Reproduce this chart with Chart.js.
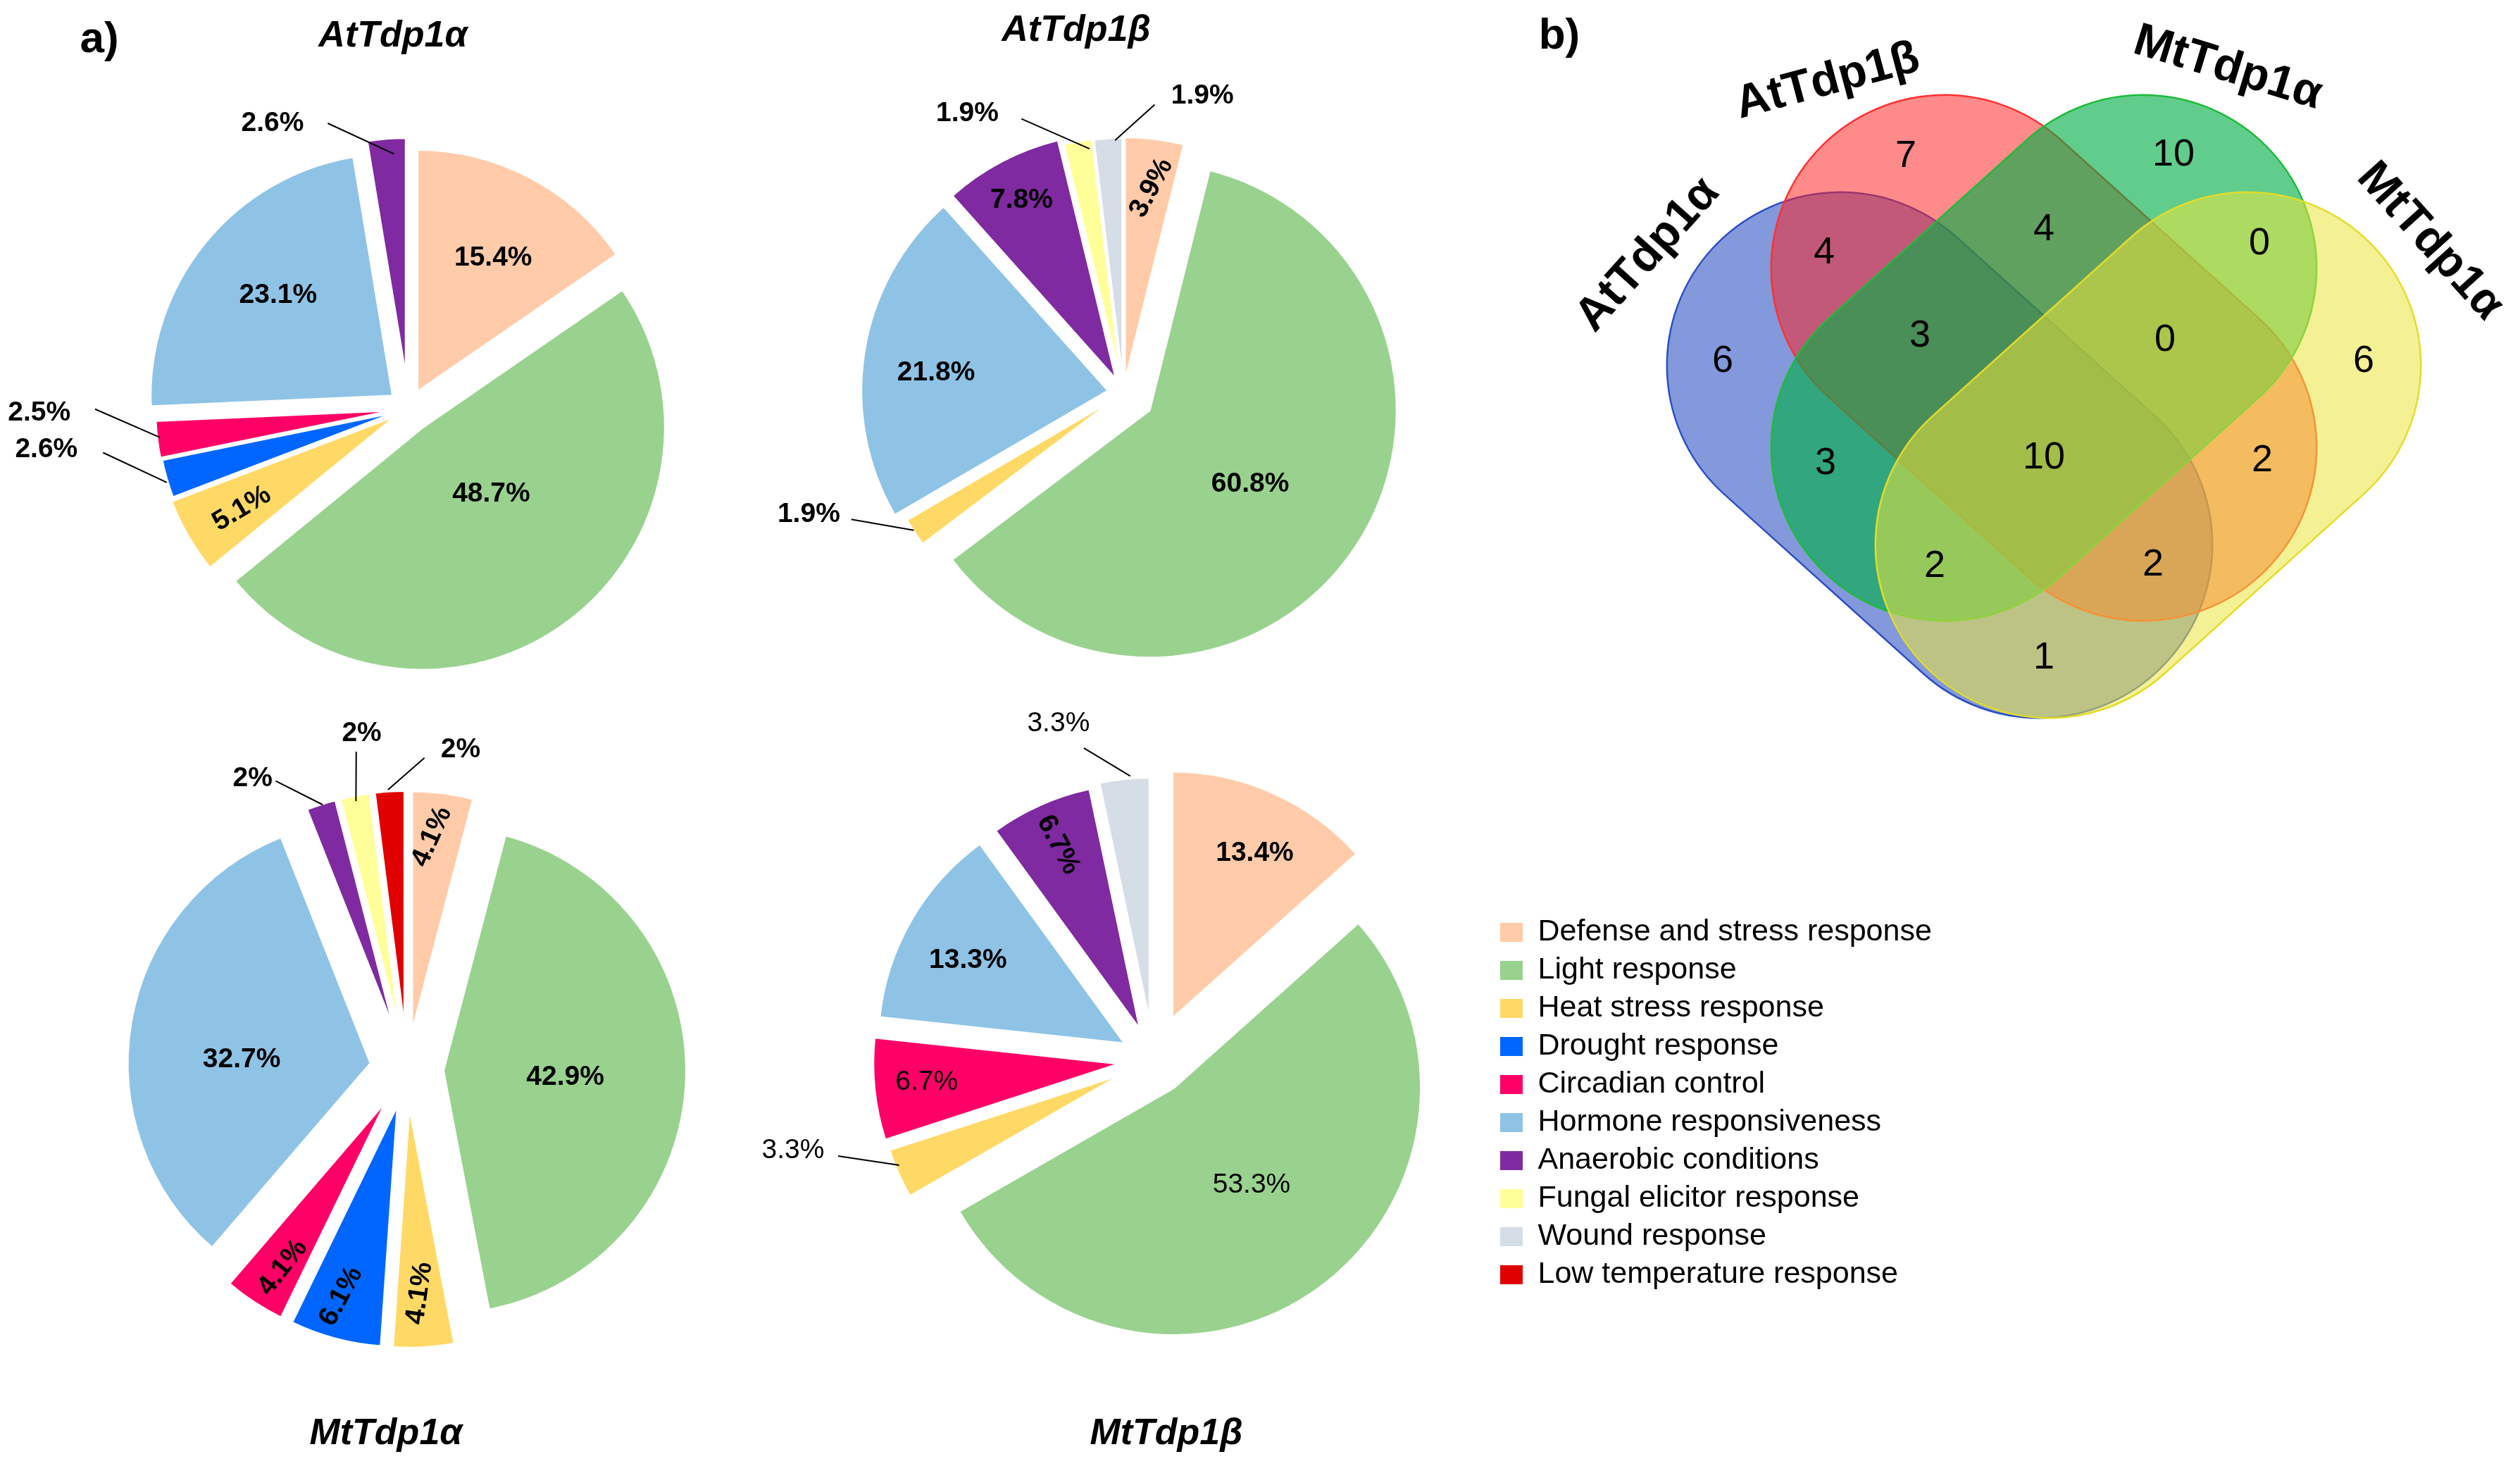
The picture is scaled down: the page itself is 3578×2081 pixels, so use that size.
<!DOCTYPE html>
<html>
<head>
<meta charset="utf-8">
<script src="https://cdn.jsdelivr.net/npm/chart.js@4.4.0/dist/chart.umd.min.js"></script>
<style>
  html, body { margin: 0; padding: 0; background: #fff; }
  body { width: 3578px; height: 2081px; position: relative; overflow: hidden; font-family: "Liberation Sans", Arial, sans-serif; }
  canvas { position: absolute; }
  .lbl { position: absolute; transform: translate(-50%, -50%); white-space: nowrap; color: #000; }
  .panel { font-weight: bold; font-size: 62px; }
  .ptitle { font-weight: bold; font-style: italic; font-size: 52px; }
</style>
</head>
<body>
<canvas id="pieAtA"></canvas>
<canvas id="pieAtB"></canvas>
<canvas id="pieMtA"></canvas>
<canvas id="pieMtB"></canvas>
<canvas id="venn"></canvas>
<canvas id="legend"></canvas>

<div class="lbl panel" style="left:141px;top:52px">a)</div>
<div class="lbl panel" style="left:2214px;top:47px">b)</div>
<div class="lbl ptitle" style="left:558px;top:48px">AtTdp1α</div>
<div class="lbl ptitle" style="left:1528px;top:40px">AtTdp1β</div>
<div class="lbl ptitle" style="left:548px;top:2032px">MtTdp1α</div>
<div class="lbl ptitle" style="left:1656px;top:2032px">MtTdp1β</div>

<script>
// categories (legend order = slice order, clockwise from 12 o'clock)
const categories = [
    'Defense and stress response', 'Light response', 'Heat stress response',
    'Drought response', 'Circadian control', 'Hormone responsiveness',
    'Anaerobic conditions', 'Fungal elicitor response', 'Wound response',
    'Low temperature response'
];
const sliceColors = ['#FFCBA9', '#99D28F', '#FFD966', '#0066FF', '#FF0066',
    '#8EC3E6', '#7F2AA0', '#FFFF99', '#D5DDE7', '#E00000'];

// percentages per gene
const atTdp1aValues = [15.4, 48.7, 5.1, 2.6, 2.5, 23.1, 2.6, 0, 0, 0];
const atTdp1bValues = [3.9, 60.8, 1.9, 0, 0, 21.8, 7.8, 1.9, 1.9, 0];
const mtTdp1aValues = [4.1, 42.9, 4.1, 6.1, 4.1, 32.7, 2, 2, 0, 2];
const mtTdp1bValues = [13.4, 53.3, 3.3, 0, 6.7, 13.3, 6.7, 0, 3.3, 0];

// venn: shared element counts and where they sit (venn units)
const vennSets = ['AtTdp1α', 'AtTdp1β', 'MtTdp1α', 'MtTdp1α'];
const vennCounts = [6, 7, 10, 6, 4, 4, 0, 3, 0, 10, 3, 2, 2, 2, 1];
const vennX = [-4.56, -1.96, 1.84, 4.54, -3.12, 0, 3.06, -1.76, 1.72, 0, -3.10, 3.10, -1.55, 1.55, 0];
const vennY = [-0.05, 2.86, 2.88, -0.05, 1.49, 1.82, 1.62, 0.31, 0.25, -1.42, -1.50, -1.46, -2.96, -2.94, -4.26];

// ---- layout / style ----
const PIE_CANVAS = 1240;
const pieLayouts = {
    pieAtA: {
        cx: 580, cy: 580, r: 345, values: atTdp1aValues,
        shift: [26, 33, 17, 13, 15, 28, 40, 0, 0, 0],
        labels: {
            0: {a: 29.4, f: 0.71}, 1: {a: 136, f: 0.49}, 2: {a: 239, f: 0.80, rot: -31},
            3: {a: 263.5, f: 1.50, lead: [261.8, 1.27, 253, 1.04]},
            4: {a: 269.3, f: 1.52, lead: [269.9, 1.29, 263.4, 1.03]},
            5: {a: 310.9, f: 0.71},
            6: {a: 334.5, f: 1.30, lead: [344.2, 1.22, 356.7, 1.05]}
        }
    },
    pieAtB: {
        cx: 1595, cy: 558, r: 352, values: atTdp1bValues,
        shift: [12, 44, 5, 0, 0, 21, 20, 12, 11, 0],
        labels: {
            0: {a: 7.8, f: 0.835, rot: -62}, 1: {a: 125.7, f: 0.63},
            2: {a: 248.9, f: 1.36, lead: [245.1, 1.21, 236.8, 1.01]},
            5: {a: 276.2, f: 0.76}, 6: {a: 332.2, f: 0.88},
            7: {a: 330.8, f: 1.29, lead: [339.6, 1.18, 352.1, 0.995]},
            8: {a: 14.9, f: 1.24, lead: [6.2, 1.17, 358.1, 1.02]}
        }
    },
    pieMtA: {
        cx: 578, cy: 1518, r: 346, values: mtTdp1aValues,
        shift: [50, 51, 50, 50, 50, 52, 50, 50, 0, 50],
        labels: {
            0: {a: 6.1, f: 0.96, rot: -66}, 1: {a: 92.8, f: 0.65},
            2: {a: 176.8, f: 0.92, rot: -82}, 3: {a: 196.2, f: 0.97, rot: -62},
            4: {a: 212.1, f: 0.96, rot: -52}, 5: {a: 273.4, f: 0.68},
            6: {a: 332, f: 1.35, lead: [335.5, 1.30, 342.3, 1.14]},
            7: {a: 352.3, f: 1.39, lead: [350.9, 1.32, 349.2, 1.12]},
            9: {a: 9.5, f: 1.33, lead: [3.2, 1.28, 356.1, 1.15]}
        }
    },
    pieMtB: {
        cx: 1638, cy: 1505, r: 352, values: mtTdp1bValues,
        shift: [64, 48, 45, 0, 47, 46, 45, 0, 50, 0],
        labels: {
            0: {a: 26, f: 0.93}, 1: {a: 141.9, f: 0.64, plain: true},
            2: {a: 255.9, f: 1.50, plain: true, lead: [253.1, 1.33, 247.6, 1.11]},
            4: {a: 264.4, f: 0.92, plain: true}, 5: {a: 298.2, f: 0.85},
            6: {a: 336.1, f: 0.95, rot: 62},
            8: {a: 344.2, f: 1.41, plain: true, lead: [347.4, 1.29, 355.3, 1.15]}
        }
    }
};

function polar(cx, cy, r, deg, f) {
    const t = deg * Math.PI / 180;
    return [cx + f * r * Math.sin(t), cy - f * r * Math.cos(t)];
}

// draws exploded slices with the library's arc elements, then the % labels
function makePiePlugin(lay) {
    return {
        id: 'explodedPie',
        beforeDatasetDraw(chart, args) {
            const ctx = chart.ctx;
            args.meta.data.forEach((arc, i) => {
                const mid = (arc.startAngle + arc.endAngle) / 2;
                ctx.save();
                ctx.translate(Math.cos(mid) * lay.shift[i], Math.sin(mid) * lay.shift[i]);
                arc.draw(ctx);
                ctx.restore();
            });
            return false;
        },
        afterDatasetsDraw(chart) {
            const ctx = chart.ctx;
            const arc0 = chart.getDatasetMeta(0).data[0];
            const cx = arc0.x, cy = arc0.y, r = arc0.outerRadius;
            Object.keys(lay.labels).forEach((k) => {
                const cfg = lay.labels[k];
                const txt = lay.values[k] + '%';
                ctx.save();
                if (cfg.lead) {
                    const s = polar(cx, cy, r, cfg.lead[0], cfg.lead[1]);
                    const e = polar(cx, cy, r, cfg.lead[2], cfg.lead[3]);
                    ctx.strokeStyle = '#000';
                    ctx.lineWidth = 2;
                    ctx.beginPath();
                    ctx.moveTo(s[0], s[1]);
                    ctx.lineTo(e[0], e[1]);
                    ctx.stroke();
                }
                const p = polar(cx, cy, r, cfg.a, cfg.f);
                ctx.translate(p[0], p[1]);
                if (cfg.rot) ctx.rotate(cfg.rot * Math.PI / 180);
                ctx.font = (cfg.plain ? '' : 'bold ') + '39px "Liberation Sans", Arial';
                ctx.fillStyle = '#000';
                ctx.textAlign = 'center';
                ctx.textBaseline = 'middle';
                ctx.fillText(txt, 0, 0);
                ctx.restore();
            });
        }
    };
}

Object.keys(pieLayouts).forEach((id) => {
    const lay = pieLayouts[id];
    const el = document.getElementById(id);
    el.width = PIE_CANVAS;
    el.height = PIE_CANVAS;
    el.style.left = (lay.cx - PIE_CANVAS / 2) + 'px';
    el.style.top = (lay.cy - PIE_CANVAS / 2) + 'px';
    new Chart(el, {
        type: 'pie',
        data: {
            labels: categories,
            datasets: [{
                data: lay.values,
                backgroundColor: sliceColors,
                borderColor: '#ffffff',
                borderWidth: 4,
            }],
        },
        options: {
            responsive: false,
            animation: false,
            devicePixelRatio: 1,
            events: [],
            radius: lay.r,
            layout: { padding: 0 },
            plugins: { legend: { display: false }, tooltip: { enabled: false } },
        },
        plugins: [makePiePlugin(lay)],
    });
});

// ---- Venn diagram ----
const vennShapes = [
    { cx: -1.48, cy: -1.38, ang: 42, fill: 'rgba(30,70,190,0.55)', stroke: '#2c4ec4' },
    { cx: 0, cy: 0, ang: 42, fill: 'rgba(255,30,30,0.52)', stroke: '#ff3030' },
    { cx: 0, cy: 0, ang: -42, fill: 'rgba(0,175,70,0.62)', stroke: '#1dbb3a' },
    { cx: 1.48, cy: -1.38, ang: -42, fill: 'rgba(235,230,60,0.55)', stroke: '#e2dc2a' },
];
const vennHalfLen = 1.9, vennRadius = 2.46;
const vennLabelPos = [
    { x: -5.62, y: 1.46, rot: -48 },
    { x: -3.07, y: 3.92, rot: -15 },
    { x: 2.61, y: 4.11, rot: 17 },
    { x: 5.48, y: 1.65, rot: 48 },
];

const vennPlugin = {
    id: 'vennShapes',
    beforeDatasetsDraw(chart) {
        const ctx = chart.ctx;
        const xs = chart.scales.x, ys = chart.scales.y;
        const unit = xs.getPixelForValue(1) - xs.getPixelForValue(0);
        vennShapes.forEach((s) => {
            ctx.save();
            ctx.translate(xs.getPixelForValue(s.cx), ys.getPixelForValue(s.cy));
            ctx.rotate(s.ang * Math.PI / 180);
            const L = vennHalfLen * unit, R = vennRadius * unit;
            ctx.beginPath();
            ctx.arc(L, 0, R, -Math.PI / 2, Math.PI / 2);
            ctx.arc(-L, 0, R, Math.PI / 2, Math.PI * 1.5);
            ctx.closePath();
            ctx.fillStyle = s.fill;
            ctx.fill();
            ctx.lineWidth = 2.5;
            ctx.strokeStyle = s.stroke;
            ctx.stroke();
            ctx.restore();
        });
    },
    afterDatasetsDraw(chart) {
        const ctx = chart.ctx;
        const xs = chart.scales.x, ys = chart.scales.y;
        ctx.save();
        ctx.fillStyle = '#000';
        ctx.textAlign = 'center';
        ctx.textBaseline = 'middle';
        ctx.font = '54px "Liberation Sans", Arial';
        chart.getDatasetMeta(0).data.forEach((pt, i) => {
            ctx.fillText(String(vennCounts[i]), pt.x, pt.y);
        });
        ctx.font = 'bold 66px "Liberation Sans", Arial';
        vennLabelPos.forEach((p, i) => {
            ctx.save();
            ctx.translate(xs.getPixelForValue(p.x), ys.getPixelForValue(p.y));
            ctx.rotate(p.rot * Math.PI / 180);
            ctx.fillText(vennSets[i], 0, 0);
            ctx.restore();
        });
        ctx.restore();
    }
};

const vennEl = document.getElementById('venn');
vennEl.width = 1428;
vennEl.height = 1100;
vennEl.style.left = '2150px';
vennEl.style.top = '0px';
new Chart(vennEl, {
    type: 'scatter',
    data: {
        datasets: [{
            data: vennCounts.map((c, i) => ({ x: vennX[i], y: vennY[i] })),
            pointRadius: 0,
        }],
    },
    options: {
        responsive: false,
        animation: false,
        devicePixelRatio: 1,
        events: [],
        layout: { padding: 0 },
        scales: {
            x: { type: 'linear', min: -7.52, max: 6.76, display: false },
            y: { type: 'linear', min: -5.92, max: 5.08, display: false },
        },
        plugins: { legend: { display: false }, tooltip: { enabled: false } },
    },
    plugins: [vennPlugin],
});

// ---- legend (shared by the four pies) ----
const legendEl = document.getElementById('legend');
legendEl.width = 1400;
legendEl.height = 580;
legendEl.style.left = '2119px';
legendEl.style.top = '1291px';
new Chart(legendEl, {
    type: 'pie',
    data: {
        labels: categories,
        datasets: [{ data: categories.map(() => 0), backgroundColor: sliceColors, borderWidth: 0 }],
    },
    options: {
        responsive: false,
        animation: false,
        devicePixelRatio: 1,
        events: [],
        plugins: {
            tooltip: { enabled: false },
            legend: {
                display: true,
                position: 'left',
                align: 'start',
                labels: {
                    boxWidth: 32,
                    boxHeight: 27,
                    padding: 11,
                    color: '#000',
                    font: { size: 43, family: '"Liberation Sans", Arial' },
                },
            },
        },
    },
});
</script>
</body>
</html>
